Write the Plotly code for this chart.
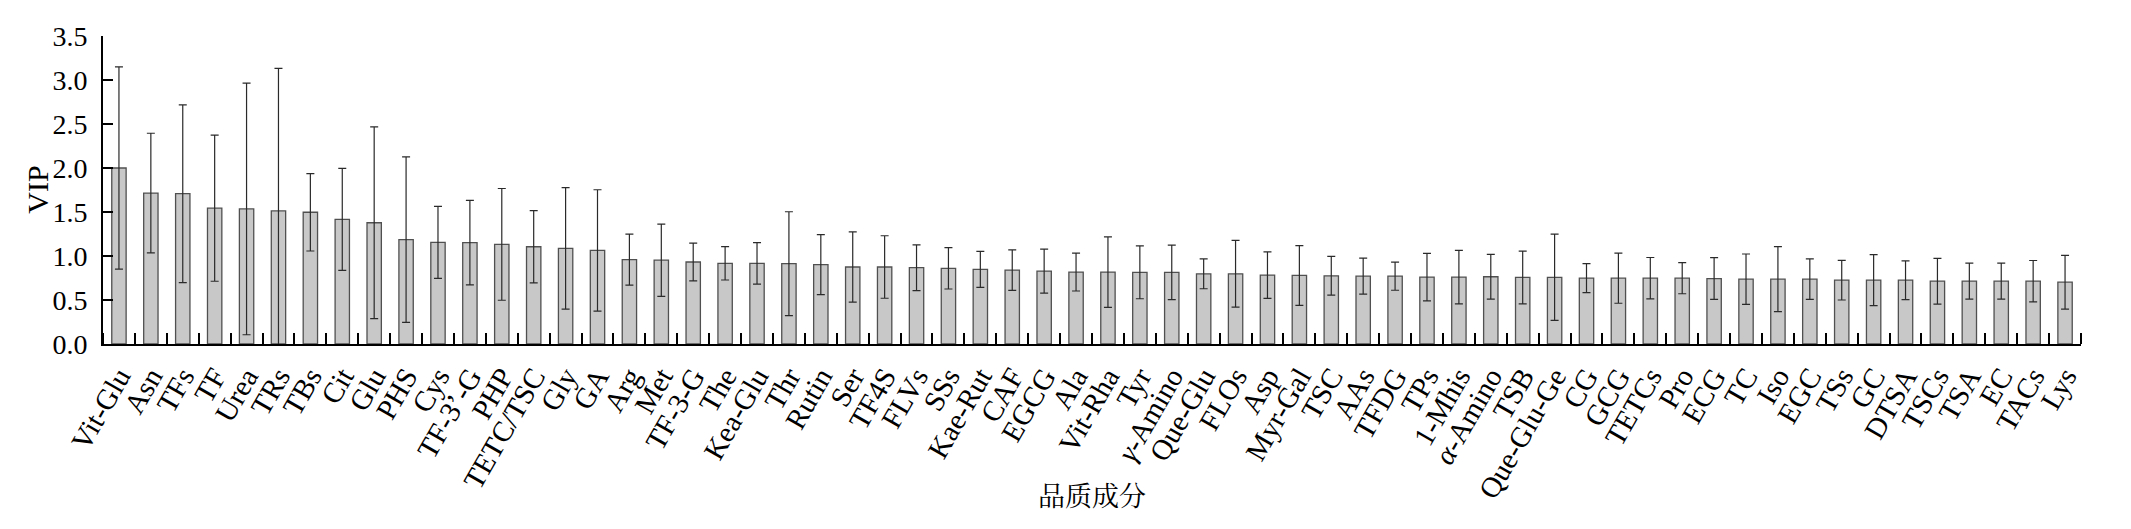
import plotly.graph_objects as go

categories = ["Vit-Glu", "Asn", "TFs", "TF", "Urea", "TRs", "TBs", "Cit", "Glu", "PHS",
              "Cys", "TF-3’-G", "PHP", "TETC/TSC", "Gly", "GA", "Arg", "Met", "TF-3-G", "The",
              "Kea-Glu", "Thr", "Rutin", "Ser", "TF4S", "FLVs", "SSs", "Kae-Rut", "CAF", "EGCG",
              "Ala", "Vit-Rha", "Tyr", "<i>γ</i>-Amino", "Que-Glu", "FLOs", "Asp", "Myr-Gal", "TSC", "AAs",
              "TFDG", "TPs", "1-Mhis", "<i>α</i>-Amino", "TSB", "Que-Glu-Ge", "CG", "GCG", "TETCs", "Pro",
              "ECG", "TC", "Iso", "EGC", "TSs", "GC", "DTSA", "TSCs", "TSA", "EC",
              "TACs", "Lys"]

vip = [2.00, 1.715, 1.708, 1.543, 1.535, 1.512, 1.497, 1.416, 1.378, 1.186,
       1.155, 1.151, 1.132, 1.105, 1.086, 1.063, 0.959, 0.952, 0.932, 0.917,
       0.917, 0.913, 0.902, 0.875, 0.875, 0.867, 0.860, 0.848, 0.840, 0.829,
       0.817, 0.817, 0.814, 0.814, 0.798, 0.798, 0.783, 0.779, 0.775, 0.771,
       0.771, 0.760, 0.760, 0.764, 0.756, 0.758, 0.748, 0.748, 0.748, 0.748,
       0.744, 0.737, 0.737, 0.737, 0.725, 0.725, 0.725, 0.714, 0.714, 0.714,
       0.714, 0.702]

sd = [1.15, 0.68, 1.01, 0.83, 1.43, 1.62, 0.44, 0.58, 1.09, 0.94,
      0.41, 0.48, 0.635, 0.41, 0.69, 0.69, 0.29, 0.41, 0.215, 0.19,
      0.236, 0.59, 0.34, 0.40, 0.355, 0.26, 0.235, 0.205, 0.23, 0.25,
      0.215, 0.40, 0.30, 0.31, 0.17, 0.38, 0.265, 0.34, 0.22, 0.205,
      0.16, 0.27, 0.305, 0.255, 0.30, 0.49, 0.165, 0.285, 0.235, 0.177,
      0.238, 0.286, 0.37, 0.23, 0.225, 0.29, 0.22, 0.26, 0.205, 0.205,
      0.235, 0.305]

y_ticks = [0, 0.5, 1.0, 1.5, 2.0, 2.5, 3.0, 3.5]

serif = "Liberation Serif, Times New Roman, serif"
positions = list(range(len(categories)))

fig = go.Figure()
fig.add_trace(go.Bar(
    x=positions, y=vip,
    width=0.45,
    marker=dict(color="#c8c8c8", line=dict(color="#505050", width=1.3)),
    error_y=dict(type="data", array=sd, visible=True, color="#2a2a2a",
                 thickness=1.2, width=4),
))

fig.update_layout(
    width=2131, height=529,
    margin=dict(l=103, r=50, t=36, b=185, autoexpand=False),
    paper_bgcolor="white", plot_bgcolor="white",
    showlegend=False,
    font=dict(family=serif, size=29, color="black"),
)
fig.update_xaxes(
    range=[-0.5, len(categories) - 0.5],
    tickmode="array", tickvals=positions, ticktext=categories,
    showline=True, linecolor="black", linewidth=2,
    ticks="", ticklabelstandoff=2,
    minor=dict(tickmode="linear", tick0=-0.5, dtick=1, ticks="inside",
               ticklen=11, tickwidth=2, tickcolor="black", showgrid=False),
    tickangle=-60, tickfont=dict(family=serif, size=29, color="black"),
    showgrid=False, zeroline=False, automargin=False,
)
fig.update_yaxes(
    range=[0, 3.5], tickvals=y_ticks, tickformat=".1f",
    showline=True, linecolor="black", linewidth=2,
    ticks="inside", ticklen=10, tickwidth=2, tickcolor="black",
    ticklabelstandoff=8,
    tickfont=dict(family=serif, size=28, color="black"),
    showgrid=False, zeroline=False, automargin=False,
)
fig.add_annotation(text="VIP", xref="paper", yref="paper", x=-0.0335, y=0.5,
                   xanchor="center", yanchor="middle",
                   textangle=-90, showarrow=False,
                   font=dict(family=serif, size=30, color="black"))
fig.add_annotation(text="品质成分", xref="paper", yref="paper", x=0.5, y=-0.49,
                   xanchor="center", yanchor="middle",
                   showarrow=False,
                   font=dict(family="Noto Serif CJK SC, Noto Sans CJK SC, serif", size=27, color="black"))

fig.write_html("out.html", config={"displayModeBar": False},
               post_script="document.body.style.margin='0';document.body.style.overflow='hidden';")
